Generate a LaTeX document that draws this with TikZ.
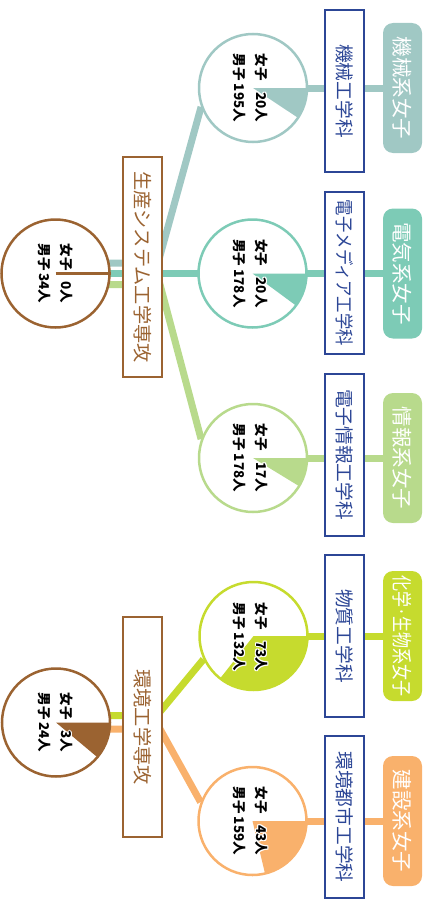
\documentclass[tikz,border=0pt]{standalone}
\usepackage{fontspec}
\setmainfont{Noto Sans CJK JP}
\usepackage{graphicx}
\usetikzlibrary{calc,backgrounds}

\definecolor{cA}{HTML}{A0C8C4}
\definecolor{cB}{HTML}{7DCBB6}
\definecolor{cC}{HTML}{B8DA8C}
\definecolor{cD}{HTML}{C6DB2E}
\definecolor{cE}{HTML}{F9B16C}
\definecolor{brn}{HTML}{9B6331}
\definecolor{blu}{HTML}{2C4696}

\newcommand\hlcopy[3]{\rlap{\hspace*{#1}\raisebox{#2}{\textcolor{white}{#3}}}}
\newcommand\halotext[1]{\hlcopy{0.9pt}{0pt}{#1}\hlcopy{-0.9pt}{0pt}{#1}\hlcopy{0pt}{0.9pt}{#1}\hlcopy{0pt}{-0.9pt}{#1}\hlcopy{0.65pt}{0.65pt}{#1}\hlcopy{-0.65pt}{0.65pt}{#1}\hlcopy{0.65pt}{-0.65pt}{#1}\hlcopy{-0.65pt}{-0.65pt}{#1}#1}
\newcommand\stat[2]{\halotext{\begin{tabular}{@{}l@{\hspace{3pt}}r@{}}女子&#1人\\男子&#2人\end{tabular}}}

\tikzset{
 pie/.style={circle, draw=#1, line width=2.5pt, fill=white, minimum size=108pt, inner sep=0pt},
 band/.style={line width=7pt, draw=#1},
 dept/.style={draw=blu, line width=2pt, fill=white, rotate=-90, minimum width=162pt, minimum height=39pt, inner sep=0pt, text=blu, font=\fontsize{18.7}{20}\selectfont},
 tag/.style={fill=#1, rounded corners=10pt, rotate=-90, minimum width=130pt, minimum height=39pt, inner sep=0pt, text=white, font=\fontsize{20.5}{22}\selectfont},
 major/.style={draw=brn, line width=2.5pt, fill=white, rotate=-90, minimum width=220pt, minimum height=39pt, inner sep=0pt, text=brn, font=\fontsize{19.2}{21}\selectfont},
 stats/.style={rotate=-90, inner sep=0pt, font=\fontsize{13.5}{22}\selectfont\bfseries},
}

\begin{document}
\begin{tikzpicture}[x=1pt,y=1pt]
\useasboundingbox (0,0) rectangle (425,-899);

% circles
\node[pie=brn] (sA) at (55.5,-273.5) {};
\node[pie=brn] (sB) at (56,-722.5) {};
\node[pie=cA] (c1) at (253,-88) {};
\node[pie=cB] (c2) at (252.5,-273.5) {};
\node[pie=cC] (c3) at (253,-458) {};
\node[pie=cD] (c4) at (253.5,-636) {};
\node[pie=cE] (c5) at (252.5,-821) {};

% bend points behind the major boxes
\coordinate (kA1) at (158,-263);
\coordinate (kA3) at (160,-284.5);
\coordinate (kB1) at (157,-715.5);
\coordinate (kB2) at (160,-729);

% tags
\node[tag=cA] (t1) at (402.5,-88) {機械系女子};
\node[tag=cB] (t2) at (402.5,-273.5) {電気系女子};
\node[tag=cC] (t3) at (402.5,-458) {情報系女子};
\node[tag=cD] (t4) at (402.5,-636) {\scalebox{0.78}[1]{化学·生物系女子}};
\node[tag=cE] (t5) at (402.5,-821) {建設系女子};

\begin{pgfonlayer}{background}
\draw[band=cA] (sA.center |- kA1) -- (kA1) -- (c1.200);
\draw[band=cB] (sA.center) -- (c2.center);
\draw[band=cC] (sA.center |- kA3) -- (kA3) -- (c3.160);
\draw[band=cD] (sB.center |- kB1) -- (kB1) -- (c4.205);
\draw[band=cE] (sB.center |- kB2) -- (kB2) -- (c5.160);
\draw[band=cA] (c1.center) -- (t1.center);
\draw[band=cB] (c2.center) -- (t2.center);
\draw[band=cC] (c3.center) -- (t3.center);
\draw[band=cD] (c4.center) -- (t4.center);
\draw[band=cE] (c5.center) -- (t5.center);
\end{pgfonlayer}

% pie slices
\draw[brn, line width=2.5pt] (sA.center) -- (sA.east);
\fill[brn] (sB.center) -- ++(0:54) arc[start angle=0, end angle=-40, radius=54] -- cycle;
\fill[cA] (c1.center) -- ++(0:54) arc[start angle=0, end angle=-33.5, radius=54] -- cycle;
\fill[cB] (c2.center) -- ++(0:54) arc[start angle=0, end angle=-36.4, radius=54] -- cycle;
\fill[cC] (c3.center) -- ++(0:54) arc[start angle=0, end angle=-31.4, radius=54] -- cycle;
\fill[cD] (c4.center) -- ++(0:54) arc[start angle=0, end angle=-128.2, radius=54] -- cycle;
\fill[cE] (c5.center) -- ++(0:54) arc[start angle=0, end angle=-76.6, radius=54] -- cycle;

% majors and departments
\node[major] (mA) at (142.5,-267) {生産システム工学専攻};
\node[major] (mB) at (142.5,-727) {環境工学専攻};
\node[dept] (d1) at (344.5,-91) {機械工学科};
\node[dept] (d2) at (344.5,-273) {\scalebox{0.875}[1]{電子メディア工学科}};
\node[dept] (d3) at (344.5,-454.5) {電子情報工学科};
\node[dept] (d4) at (344.5,-636) {物質工学科};
\node[dept] (d5) at (344.5,-817) {環境都市工学科};

% statistics
\node[stats] (xA) at (55,-273.5) {\stat{0}{34}};
\node[stats] (xB) at (55,-722.5) {\stat{3}{24}};
\node[stats] (x1) at (250,-88) {\stat{20}{195}};
\node[stats] (x2) at (250,-273.5) {\stat{20}{178}};
\node[stats] (x3) at (250,-458) {\stat{17}{178}};
\node[stats] (x4) at (250,-637) {\stat{73}{132}};
\node[stats] (x5) at (250,-821) {\stat{43}{159}};
\end{tikzpicture}
\end{document}
